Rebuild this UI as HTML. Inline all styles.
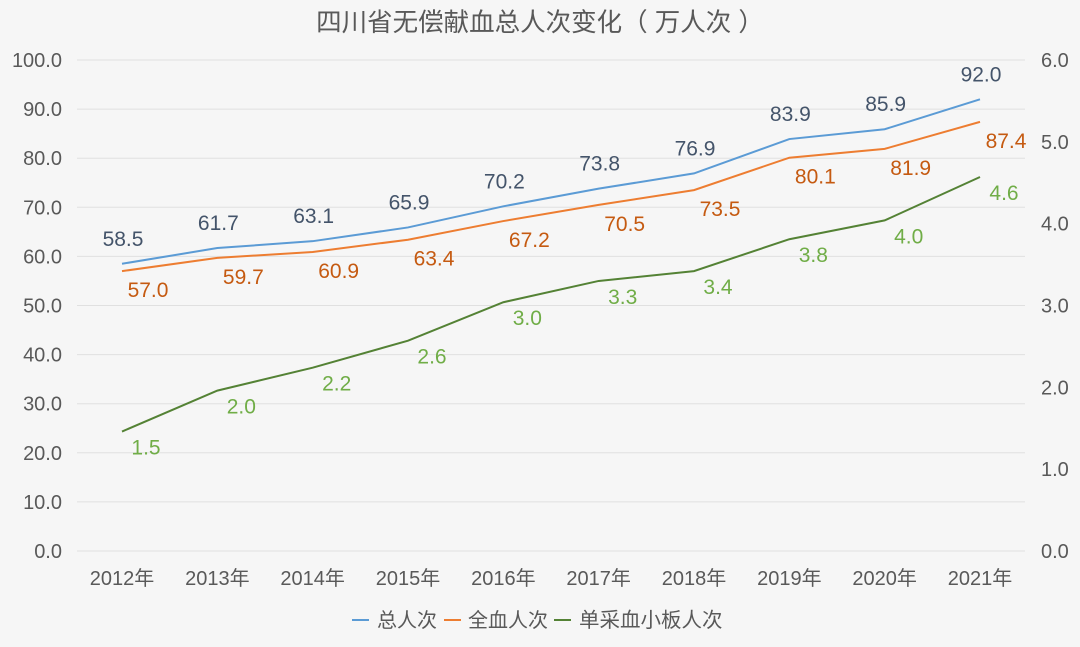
<!DOCTYPE html>
<html><head><meta charset="utf-8"><style>
body{margin:0;background:#f6f6f6;}
svg{display:block;font-family:"Liberation Sans","Noto Sans CJK SC",sans-serif;}
</style></head><body>
<svg id="c" width="1080" height="647" viewBox="0 0 1080 647">
<rect width="1080" height="647" fill="#f6f6f6"/>
<text x="540" y="31" text-anchor="middle" font-size="25.5" fill="#595959">四川省无偿献血总人次变化（ 万人次 ）</text>
<g id="grid"></g><g id="lines"></g><g id="labels"></g>
<g>
<line x1="352" y1="620" x2="369" y2="620" stroke="#5b9bd5" stroke-width="2"/>
<text x="377" y="627" font-size="20" fill="#595959">总人次</text>
<line x1="444" y1="620" x2="461" y2="620" stroke="#ed7d31" stroke-width="2"/>
<text x="468" y="627" font-size="20" fill="#595959">全血人次</text>
<line x1="554" y1="620" x2="571" y2="620" stroke="#548235" stroke-width="2"/>
<text x="579" y="627" font-size="20.5" fill="#595959">单采血小板人次</text>
</g>
</svg>
<script>
const categories=["2012年","2013年","2014年","2015年","2016年","2017年","2018年","2019年","2020年","2021年"];
const totalValues=[58.5,61.7,63.1,65.9,70.2,73.8,76.9,83.9,85.9,92.0];
const wholeBloodValues=[57.0,59.7,60.9,63.4,67.2,70.5,73.5,80.1,81.9,87.4];
const plateletValues=[1.46,1.96,2.24,2.57,3.04,3.30,3.42,3.81,4.04,4.57];
const leftTicks=[0,10,20,30,40,50,60,70,80,90,100];
const rightTicks=[0,1,2,3,4,5,6];
const NS="http://www.w3.org/2000/svg";
const x0=122,xStep=(980-122)/9,yBase=551,yTop=60;
const xs=i=>x0+i*xStep;
const yL=v=>yBase-(v/100)*(yBase-yTop);
const yR=v=>yBase-(v/6)*(yBase-yTop);
function mk(t,a,p){const e=document.createElementNS(NS,t);for(const k in a)e.setAttribute(k,a[k]);p.appendChild(e);return e;}
const grid=document.getElementById('grid'),lines=document.getElementById('lines'),labels=document.getElementById('labels');
leftTicks.forEach(v=>{
 const l=mk('line',{x1:77,x2:1025,y1:yL(v),y2:yL(v),stroke:'#e0e0e0','stroke-width':1},grid);
 
 
 const t=mk('text',{x:62,y:yL(v)+7,'text-anchor':'end','font-size':20,fill:'#595959'},grid);t.textContent=v.toFixed(1);
 
 
});
rightTicks.forEach(v=>{
 const t=mk('text',{x:1041,y:yR(v)+7,'font-size':20,fill:'#595959'},grid);t.textContent=v.toFixed(1);
 
 
});
categories.forEach((c,i)=>{
 const t=mk('text',{x:xs(i),y:585,'text-anchor':'middle','font-size':20,fill:'#595959'},grid);t.textContent=c;
 
 
});
function series(vals,yf,color,name,lc,dx,dy){
 const p=mk('polyline',{points:vals.map((v,i)=>xs(i)+','+yf(v)).join(' '),fill:'none',stroke:color,'stroke-width':2},lines);
 
 
 vals.forEach((v,i)=>{
  const t=mk('text',{x:xs(i)+dx,y:yf(v)+dy,'text-anchor':'middle','font-size':21,fill:lc},labels);t.textContent=v.toFixed(1);
  
  
 });
}
series(totalValues,yL,'#5b9bd5','total','#44546a',1,-18);
series(wholeBloodValues,yL,'#ed7d31','whole-blood','#c55a11',26,26);
series(plateletValues,yR,'#548235','platelet','#70ad47',24,23);
</script>
</body></html>
